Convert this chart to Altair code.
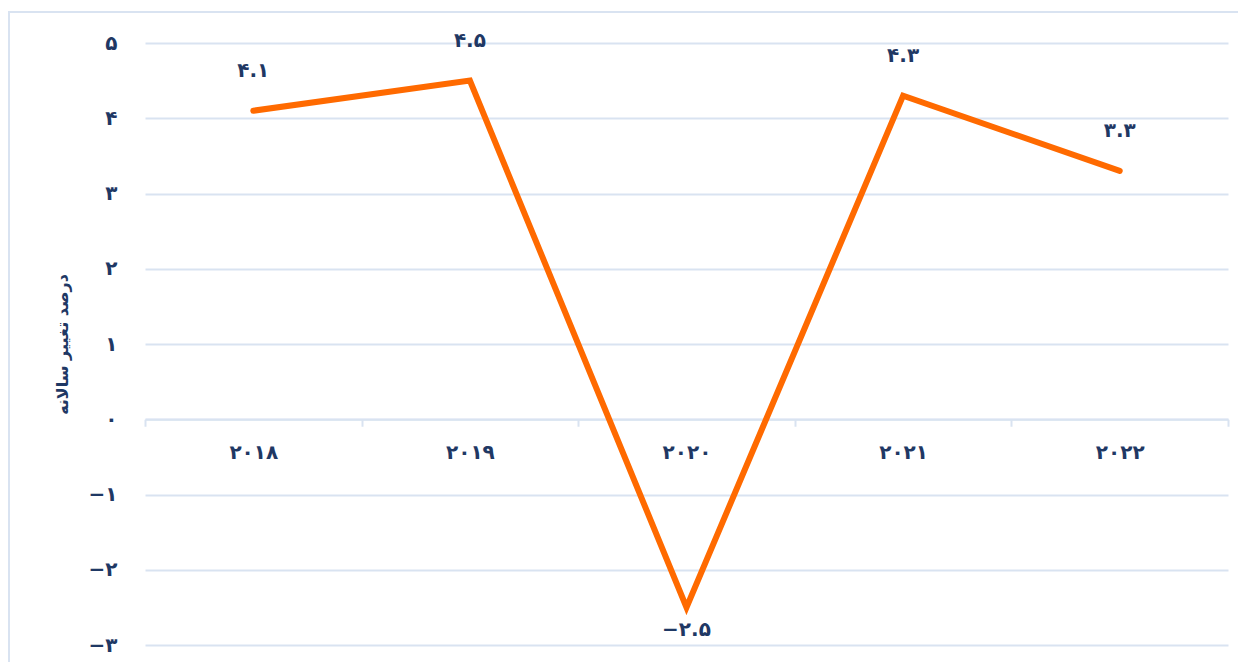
import altair as alt
import pandas as pd

years = ["۲۰۱۸", "۲۰۱۹", "۲۰۲۰", "۲۰۲۱", "۲۰۲۲"]
growth = [4.1, 4.5, -2.5, 4.3, 3.3]
value_labels = ["۴.۱", "۴.۵", "−۲.۵", "۴.۳", "۳.۳"]

y_tick_values = [-3, -2, -1, 0, 1, 2, 3, 4, 5]
y_tick_labels = ["−۳", "−۲", "−۱", "۰", "۱", "۲", "۳", "۴", "۵"]

y_title = "درصد تغییر سالانه"

df = pd.DataFrame({"year": years, "growth": growth, "label": value_labels})

W, H = 1083, 602
NAVY = "#1f3864"
GRID = "#d9e3f1"
FONT = "DejaVu Sans"

label_map = "{" + ",".join(f"'{v}':'{l}'" for v, l in zip(y_tick_values, y_tick_labels)) + "}"

ymin, ymax = min(y_tick_values), max(y_tick_values)
zero_from_bottom = H * (0 - ymin) / (ymax - ymin)

x_enc = alt.X(
    "year:N",
    sort=None,
    scale=alt.Scale(type="band", paddingInner=0, paddingOuter=0),
    axis=alt.Axis(
        title=None,
        orient="bottom",
        offset=-zero_from_bottom,
        tickBand="extent",
        domainColor=GRID,
        domainWidth=2,
        tickColor=GRID,
        tickWidth=2,
        tickSize=7,
        grid=False,
        labelAngle=0,
        labelFont=FONT,
        labelFontSize=20,
        labelFontWeight="bold",
        labelColor=NAVY,
        labelPadding=16,
    ),
)

y_scale = alt.Scale(domain=[ymin, ymax], nice=False, zero=False)

line = alt.Chart(df).mark_line(
    color="#ff6a00", strokeWidth=6, strokeCap="round", strokeJoin="miter"
).encode(
    x=x_enc,
    y=alt.Y(
        "growth:Q",
        scale=y_scale,
        axis=alt.Axis(
            values=y_tick_values,
            labelExpr=f"{label_map}[datum.value]",
            title=y_title,
            titleFont=FONT,
            titleFontSize=16,
            titleFontWeight="bold",
            titleColor=NAVY,
            titlePadding=18,
            labelFont=FONT,
            labelFontSize=20,
            labelFontWeight="bold",
            labelColor=NAVY,
            labelPadding=28,
            domain=False,
            ticks=False,
            grid=True,
            gridColor=GRID,
            gridWidth=2,
        ),
    ),
)

text_style = dict(font=FONT, fontSize=20, fontWeight="bold", color=NAVY, baseline="middle", align="center")

labels_pos = alt.Chart(df).transform_filter("datum.growth >= 0").mark_text(dy=-40, **text_style).encode(
    x=alt.X("year:N", sort=years),
    y=alt.Y("growth:Q", scale=y_scale),
    text="label:N",
)
labels_neg = alt.Chart(df).transform_filter("datum.growth < 0").mark_text(dy=23, **text_style).encode(
    x=alt.X("year:N", sort=years),
    y=alt.Y("growth:Q", scale=y_scale),
    text="label:N",
)

border = alt.Chart(pd.DataFrame({"k": [0]})).mark_rect(
    fillOpacity=0, stroke=GRID, strokeWidth=2
).encode(
    x=alt.value(-136), x2=alt.value(W + 300), y=alt.value(-31), y2=alt.value(H + 300)
)

chart = alt.layer(border, line, labels_pos, labels_neg).properties(
    width=W,
    height=H,
    autosize=alt.AutoSizeParams(type="none"),
    padding={"left": 137, "top": 35, "right": 10, "bottom": 17},
).configure_view(stroke=None)

chart.save("out.html", embed_options={"renderer": "svg", "actions": False})
